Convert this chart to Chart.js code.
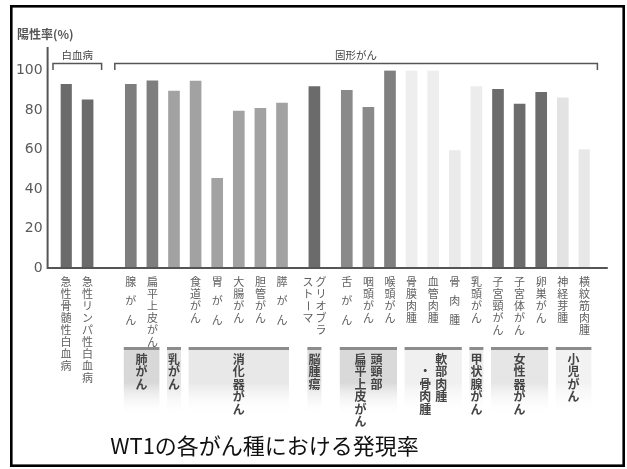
<!DOCTYPE html>
<html>
<head>
<meta charset="utf-8">
<script src="https://cdn.jsdelivr.net/npm/chart.js@4"></script>
<style>
  html, body { margin: 0; padding: 0; background: #fff; }
  canvas { display: block; }
</style>
</head>
<body>
<canvas id="c" width="627" height="469"></canvas>
<script>
// Tick labels under each bar: one string per vertical column (first column is the rightmost)
const tickLabels = [
  ['急性骨髄性白血病'], ['急性リンパ性白血病'],
  ['腺がん'], ['扁平上皮がん'], [],
  ['食道がん'], ['胃がん'], ['大腸がん'], ['胆管がん'], ['膵がん'],
  ['グリオブラ', 'ストーマ'],
  ['舌がん'], ['咽頭がん'], ['喉頭がん'],
  ['骨膜肉腫'], ['血管肉腫'], ['骨肉腫'],
  ['乳頭がん'],
  ['子宮頸がん'], ['子宮体がん'], ['卵巣がん'],
  ['神経芽腫'], ['横紋筋肉腫']
];
const categories = tickLabels.map(cols => cols.join(''));

// WT1 positive rate (%)
const positiveRate = [
  93, 85.2,
  93, 94.8, 89.6,
  94.7, 45.4, 79.5, 80.8, 83.5,
  91.8,
  90, 81.4, 100,
  100, 100, 59.4,
  91.8,
  90.5, 83, 89,
  86.2, 60
];

const yTicks = [0, 20, 40, 60, 80, 100];

// Upper brackets: label, first bar, last bar
const bracketNames = ['白血病', '固形がん'];
const bracketFirst = [0, 2];
const bracketLast = [1, 22];

// Organ groups below the tick labels (columns, first bar, last bar)
const organGroups = [
  ['肺がん'], ['乳がん'], ['消化器がん'], ['脳腫瘍'],
  ['頭頸部', '扁平上皮がん'], ['軟部肉腫', '　・骨肉腫'],
  ['甲状腺がん'], ['女性器がん'], ['小児がん']
];
const organFirst = [2, 4, 5, 10, 11, 14, 17, 18, 21];
const organLast = [3, 4, 9, 10, 13, 16, 17, 20, 22];

const chartTitle = 'WT1の各がん種における発現率';
const axisTitle = '陽性率(%)';

// ---- styles ----
const barColors = [
  '#6b6b6b', '#6b6b6b',
  '#7e7e7e', '#7e7e7e', '#a2a2a2',
  '#a2a2a2', '#a2a2a2', '#a2a2a2', '#a2a2a2', '#a2a2a2',
  '#6b6b6b',
  '#8a8a8a', '#8a8a8a', '#808080',
  '#eeeeee', '#eeeeee', '#eaeaea',
  '#ececec',
  '#6c6c6c', '#6c6c6c', '#6c6c6c',
  '#e3e3e3', '#e8e8e8'
];
const organShades = ['#d8d8d8', '#e3e3e3', '#e8e8e8', '#dddddd', '#d9d9d9',
                     '#f0f0f0', '#ededed', '#e6e6e6', '#f2f2f2'];

// Half-slot grid: each bar takes two half slots, wider gaps between clusters
const extraGapAfter = { 1: 2, 9: 1, 10: 1 };
const slotLabels = [], slotValues = [], slotColors = [], barSlot = [];
categories.forEach((name, i) => {
  barSlot.push(slotLabels.length);
  slotLabels.push(name);
  slotValues.push(positiveRate[i]);
  slotColors.push(barColors[i]);
  if (i < categories.length - 1) {
    const pad = 1 + (extraGapAfter[i] || 0);
    for (let j = 0; j < pad; j++) {
      slotLabels.push('');
      slotValues.push(null);
      slotColors.push('rgba(0,0,0,0)');
    }
  }
});

const JP = '"Noto Sans CJK JP", "Noto Sans", sans-serif';

function drawColumn(ctx, text, cx, y0, pitch) {
  [...text].forEach((ch, j) => {
    const cy = y0 + j * pitch;
    if (ch === 'ー') {
      ctx.save();
      ctx.translate(cx, cy);
      ctx.rotate(Math.PI / 2);
      ctx.fillText(ch, 0, 0);
      ctx.restore();
    } else {
      ctx.fillText(ch, cx, cy);
    }
  });
}

const decorations = {
  id: 'decorations',
  beforeDraw(chart) {
    const ctx = chart.ctx;
    ctx.save();
    ctx.fillStyle = '#ffffff';
    ctx.fillRect(0, 0, chart.width, chart.height);
    ctx.restore();
  },
  afterDraw(chart) {
    const ctx = chart.ctx;
    const xs = chart.scales.x, ys = chart.scales.y, area = chart.chartArea;
    const px = i => xs.getPixelForValue(barSlot[i]);
    const y0 = ys.getPixelForValue(0);
    const axisX = area.left - 13;

    ctx.save();

    // outer frame
    ctx.strokeStyle = '#000';
    ctx.lineWidth = 2.6;
    ctx.strokeRect(11.3, 6.3, 612.4, 459.4);

    // axes
    ctx.strokeStyle = '#555';
    ctx.lineWidth = 2;
    ctx.beginPath();
    ctx.moveTo(axisX, ys.getPixelForValue(100) - 23.5);
    ctx.lineTo(axisX, y0);
    ctx.lineTo(area.right + 18, y0);
    ctx.stroke();

    // axis title
    ctx.fillStyle = '#555';
    ctx.font = 'bold 12px ' + JP;
    ctx.textAlign = 'left';
    ctx.textBaseline = 'middle';
    ctx.fillText(axisTitle, 17, 34);

    // brackets above the bars
    const bracketPad = [[13, 14], [16, 13]];
    ctx.strokeStyle = '#555';
    ctx.lineWidth = 1.5;
    ctx.font = '10.5px ' + JP;
    ctx.textAlign = 'center';
    ctx.fillStyle = '#444';
    bracketNames.forEach((name, b) => {
      const l = px(bracketFirst[b]) - bracketPad[b][0];
      const r = px(bracketLast[b]) + bracketPad[b][1];
      ctx.beginPath();
      ctx.moveTo(l, 70);
      ctx.lineTo(l, 63.5);
      ctx.lineTo(r, 63.5);
      ctx.lineTo(r, 70);
      ctx.stroke();
      ctx.fillText(name, (l + r) / 2, 55.5);
    });

    // vertical tick labels
    ctx.fillStyle = '#606060';
    ctx.font = '11px ' + JP;
    ctx.textAlign = 'center';
    ctx.textBaseline = 'middle';
    tickLabels.forEach((cols, i) => {
      const cx = px(i);
      cols.forEach((text, j) => {
        const colX = cx + ((cols.length - 1) / 2 - j) * 13;
        const pitch = [...text].length === 3 ? 19 : 12;
        drawColumn(ctx, text, colX, 282, pitch);
      });
    });

    // organ group boxes
    organGroups.forEach((cols, g) => {
      const l = px(organFirst[g]) - 7;
      const r = px(organLast[g]) + 7;
      const grad = ctx.createLinearGradient(0, 349, 0, 416);
      grad.addColorStop(0, organShades[g]);
      grad.addColorStop(0.5, organShades[g]);
      grad.addColorStop(1, 'rgba(255,255,255,0)');
      ctx.fillStyle = grad;
      ctx.fillRect(l, 349, r - l, 67);
      ctx.fillStyle = '#8c8c8c';
      ctx.fillRect(l, 347, r - l, 3);

      ctx.fillStyle = '#444';
      ctx.font = 'bold 12px ' + JP;
      const cx = (l + r) / 2;
      cols.forEach((text, j) => {
        const colX = cx + ((cols.length - 1) / 2 - j) * 16;
        drawColumn(ctx, text, colX, 359, 12.5);
      });
    });

    // title
    ctx.fillStyle = '#111';
    ctx.font = '22px ' + JP;
    ctx.textAlign = 'center';
    ctx.textBaseline = 'middle';
    ctx.fillText(chartTitle, 264.5, 446);

    ctx.restore();
  }
};

new Chart(document.getElementById('c'), {
  type: 'bar',
  data: {
    labels: slotLabels,
    datasets: [{
      data: slotValues,
      backgroundColor: slotColors,
      borderWidth: 0,
      barThickness: 11
    }]
  },
  options: {
    responsive: false,
    devicePixelRatio: 1,
    animation: false,
    layout: { padding: { top: 70.5, bottom: 201, left: 0, right: 37.2 } },
    plugins: { legend: { display: false }, tooltip: { enabled: false }, title: { display: false } },
    scales: {
      x: {
        type: 'category',
        display: false,
        offset: true
      },
      y: {
        min: 0,
        max: 100,
        afterFit: s => { s.width = 60.6; },
        afterBuildTicks: s => { s.ticks = yTicks.map(v => ({ value: v })); },
        grid: { display: false, drawTicks: false },
        border: { display: false },
        ticks: {
          padding: 18,
          color: '#5a5a5a',
          font: { family: 'DejaVu Sans', size: 14 }
        }
      }
    }
  },
  plugins: [decorations]
});
</script>
</body>
</html>
